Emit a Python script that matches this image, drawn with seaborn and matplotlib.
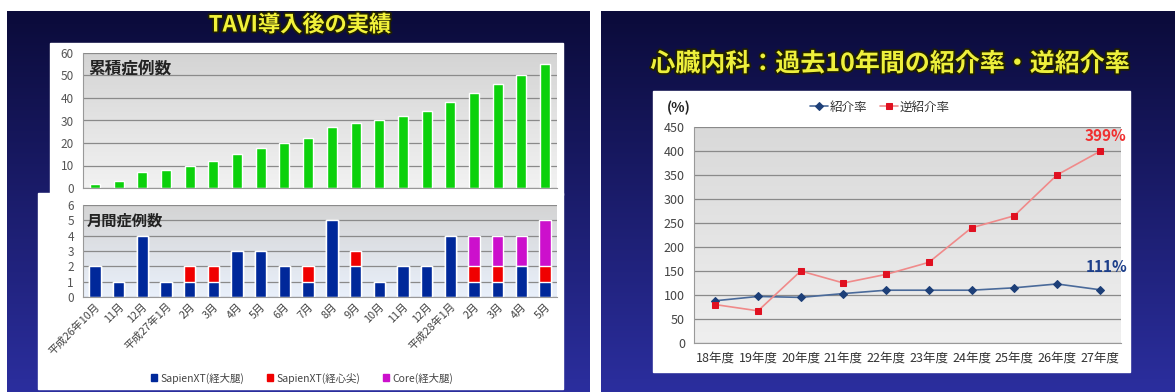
import numpy as np
import pandas as pd
import matplotlib
matplotlib.use('Agg')
import matplotlib.pyplot as plt
import matplotlib.patheffects as pe
from matplotlib.colors import LinearSegmentedColormap
from matplotlib.patches import Rectangle, Patch
import seaborn as sns

sns.set_style('white')
plt.rcParams['font.family'] = ['Noto Sans CJK JP', 'DejaVu Sans']

# left slide: TAVI cases per month
months = ['平成26年10月', '11月', '12月', '平成27年1月', '2月', '3月', '4月', '5月',
          '6月', '7月', '8月', '9月', '10月', '11月', '12月', '平成28年1月',
          '2月', '3月', '4月', '5月']
cumulative = [2, 3, 7, 8, 10, 12, 15, 18, 20, 22, 27, 29, 30, 32, 34, 38, 42, 46, 50, 55]
sapien_tf = [2, 1, 4, 1, 1, 1, 3, 3, 2, 1, 5, 2, 1, 2, 2, 4, 1, 1, 2, 1]
sapien_ta = [0, 0, 0, 0, 1, 1, 0, 0, 0, 1, 0, 1, 0, 0, 0, 0, 1, 1, 0, 1]
core_tf = [0, 0, 0, 0, 0, 0, 0, 0, 0, 0, 0, 0, 0, 0, 0, 0, 2, 2, 2, 3]
bar_labels = ['SapienXT(経大腿)', 'SapienXT(経心尖)', 'Core(経大腿)']

# right slide: referral rates
years = ['18年度', '19年度', '20年度', '21年度', '22年度', '23年度', '24年度',
         '25年度', '26年度', '27年度']
referral = [88, 97, 95, 103, 110, 110, 110, 115, 123, 111]
reverse_referral = [80, 67, 150, 125, 143, 168, 240, 265, 350, 399]

W, H = 1175, 392
fig = plt.figure(figsize=(W / 100, H / 100), dpi=100)
fig.patch.set_facecolor('white')


def rect(x0, y0, x1, y1):
    return [x0 / W, 1 - y1 / H, (x1 - x0) / W, (y1 - y0) / H]


def grad(ax, x0, y0, x1, y1, top, bottom, z=0):
    cmap = LinearSegmentedColormap.from_list('g', [top, bottom])
    ax.imshow(np.linspace(0, 1, 200).reshape(-1, 1), cmap=cmap, aspect='auto',
              extent=[x0, x1, y1, y0], zorder=z, interpolation='bilinear')


# background layer in pixel coordinates
bg = fig.add_axes([0, 0, 1, 1])
grad(bg, 7, 11, 590, 392, '#0b0b3a', '#2b2e9e')
grad(bg, 601, 11, 1175, 392, '#0b0b3a', '#2b2e9e')
bg.add_patch(Rectangle((50, 43), 513, 152, color='white', zorder=1))
bg.add_patch(Rectangle((38, 193), 525, 196, color='white', zorder=1))
bg.add_patch(Rectangle((653, 91), 477, 281, color='white', zorder=1))
grad(bg, 83, 53, 557, 188, '#d4d4d4', '#f2f2f2', z=2)
grad(bg, 83, 205, 557, 297, '#d4d4d4', '#e9f0fb', z=2)
grad(bg, 694, 127, 1121, 343, '#d9d9d9', '#efefef', z=2)
bg.set_xlim(0, W)
bg.set_ylim(H, 0)
bg.axis('off')

stroke = [pe.withStroke(linewidth=2.5, foreground='#202000')]
bg.text(300, 25, 'TAVI導入後の実績', color='#f2f23a', fontsize=16, fontweight='bold',
        ha='center', va='center', zorder=3, path_effects=stroke)
bg.text(890, 64, '心臓内科：過去10年間の紹介率・逆紹介率', color='#eef03c', fontsize=18,
        fontweight='bold', ha='center', va='center', zorder=3, path_effects=stroke)

x = list(range(len(months)))
tick_kw = dict(labelsize=8.5, colors='#555555', length=3, width=0.8)

# upper: cumulative cases
ax1 = fig.add_axes(rect(83, 53, 557, 188))
ax1.set_facecolor('none')
sns.barplot(x=x, y=cumulative, ax=ax1, color='#0cd10c', saturation=1, width=0.42,
            errorbar=None)
ax1.set_xlim(-0.5, len(x) - 0.5)
ax1.set_ylim(0, 60)
ax1.set_yticks(range(0, 61, 10))
ax1.set_xticks([])
ax1.yaxis.grid(True, color='#8a8a8a', lw=0.9)
ax1.set_axisbelow(True)
ax1.tick_params(axis='y', **tick_kw)
ax1.set_xlabel('')
ax1.set_ylabel('')
for s in ['top', 'right']:
    ax1.spines[s].set_visible(False)
for s in ['left', 'bottom']:
    ax1.spines[s].set_color('#999999')
ax1.text(0.012, 0.95, '累積症例数', transform=ax1.transAxes, fontsize=12,
         fontweight='bold', color='#222222', va='top')

# lower: monthly cases, stacked
ax2 = fig.add_axes(rect(83, 205, 557, 297))
ax2.set_facecolor('none')
total = [a + b + c for a, b, c in zip(sapien_tf, sapien_ta, core_tf)]
two = [a + b for a, b in zip(sapien_tf, sapien_ta)]
sns.barplot(x=x, y=total, ax=ax2, color='#cc10cc', saturation=1, width=0.48, errorbar=None)
sns.barplot(x=x, y=two, ax=ax2, color='#f00000', saturation=1, width=0.48, errorbar=None)
sns.barplot(x=x, y=sapien_tf, ax=ax2, color='#00289a', saturation=1, width=0.48,
            errorbar=None)
ax2.set_xlim(-0.5, len(x) - 0.5)
ax2.set_ylim(0, 6)
ax2.set_yticks(range(0, 7))
ax2.yaxis.grid(True, color='#8a8a8a', lw=0.9)
ax2.set_axisbelow(True)
ax2.tick_params(axis='y', **tick_kw)
ax2.set_xticks(x)
ax2.set_xticklabels(months, rotation=45, ha='right', rotation_mode='anchor',
                    fontsize=7.8, color='#444444')
ax2.tick_params(axis='x', length=0, pad=3)
ax2.set_xticks(np.arange(-0.5, len(x), 1), minor=True)
ax2.tick_params(axis='x', which='minor', length=3, color='#e0a070')
ax2.set_xlabel('')
ax2.set_ylabel('')
for s in ['top', 'right']:
    ax2.spines[s].set_visible(False)
for s in ['left', 'bottom']:
    ax2.spines[s].set_color('#999999')
ax2.text(0.008, 0.92, '月間症例数', transform=ax2.transAxes, fontsize=11,
         fontweight='bold', color='#222222', va='top')
handles = [Patch(color=c) for c in ['#00289a', '#f00000', '#cc10cc']]
fig.legend(handles, bar_labels, loc='center', bbox_to_anchor=(302 / W, 1 - 378 / H),
           ncol=3, frameon=False, fontsize=7.5, handlelength=0.6, handleheight=0.6,
           handletextpad=0.3, columnspacing=2.2, labelcolor='#444444')

# right: referral rates
ax3 = fig.add_axes(rect(694, 127, 1121, 343))
ax3.set_facecolor('none')
yx = list(range(len(years)))
sns.lineplot(x=yx, y=referral, ax=ax3, color='#4a6a9a', lw=1.2, marker='D',
             markersize=4, markerfacecolor='#1d3f78', markeredgecolor='#1d3f78',
             label='紹介率')
sns.lineplot(x=yx, y=reverse_referral, ax=ax3, color='#f08a8a', lw=1.2, marker='s',
             markersize=5, markerfacecolor='#e01020', markeredgecolor='#e01020',
             label='逆紹介率')
ax3.set_xlim(-0.5, len(years) - 0.5)
ax3.set_ylim(0, 450)
ax3.set_yticks(range(0, 451, 50))
ax3.set_xticks(yx)
ax3.set_xticklabels(years, fontsize=9, color='#333333')
ax3.tick_params(axis='x', length=0, pad=6)
ax3.set_xticks(np.arange(-0.5, len(years), 1), minor=True)
ax3.tick_params(axis='x', which='minor', length=3, color='#999999')
ax3.tick_params(axis='y', labelsize=9, colors='#444444', length=3)
ax3.yaxis.grid(True, color='#8a8a8a', lw=0.9)
ax3.set_axisbelow(True)
ax3.set_xlabel('')
ax3.set_ylabel('')
for s in ['top', 'right']:
    ax3.spines[s].set_visible(False)
for s in ['left', 'bottom']:
    ax3.spines[s].set_color('#999999')
ax3.legend(loc='center', bbox_to_anchor=((880 - 694) / 427, (343 - 107) / 216), ncol=2,
           frameon=False, fontsize=9, handlelength=1.4, handletextpad=0.2,
           columnspacing=1.0, labelcolor='#333333')
ax3.annotate(f'{reverse_referral[-1]}%', (yx[-1], reverse_referral[-1]),
             xytext=(4, 11), textcoords='offset points', ha='center', va='center',
             color='#f03030', fontsize=11, fontweight='bold', annotation_clip=False)
ax3.annotate(f'{referral[-1]}%', (yx[-1], referral[-1]),
             xytext=(5, 16), textcoords='offset points', ha='center', va='center',
             color='#1d3f8a', fontsize=11, fontweight='bold', annotation_clip=False)
bg.text(667, 108, '(%)', fontsize=10, fontweight='bold', color='#222222',
        va='center', zorder=3)

fig.savefig('out.png', dpi=100)
